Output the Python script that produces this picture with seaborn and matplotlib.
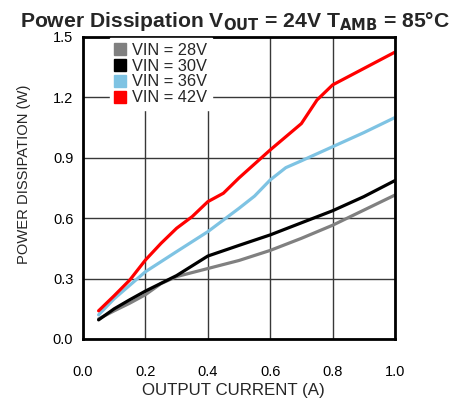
import matplotlib
matplotlib.use("Agg")
import matplotlib.pyplot as plt
import seaborn as sns
import pandas as pd
from matplotlib.lines import Line2D

x28 = [0.05, 0.1, 0.15, 0.2, 0.25, 0.3, 0.4, 0.5, 0.6, 0.7, 0.8, 0.9, 1.0]
y28 = [0.10, 0.14, 0.178, 0.22, 0.275, 0.31, 0.35, 0.39, 0.44, 0.50, 0.565, 0.64, 0.715]
x30 = [0.05, 0.1, 0.15, 0.2, 0.3, 0.4, 0.5, 0.6, 0.7, 0.8, 0.9, 1.0]
y30 = [0.095, 0.15, 0.195, 0.238, 0.315, 0.412, 0.465, 0.517, 0.577, 0.637, 0.707, 0.787]
x36 = [0.05, 0.1, 0.2, 0.3, 0.4, 0.5, 0.55, 0.6, 0.65, 0.7, 0.8, 0.9, 1.0]
y36 = [0.12, 0.20, 0.334, 0.434, 0.533, 0.649, 0.71, 0.79, 0.851, 0.885, 0.955, 1.025, 1.10]
x42 = [0.05, 0.1, 0.15, 0.2, 0.25, 0.3, 0.35, 0.4, 0.45, 0.5, 0.6, 0.7, 0.75, 0.8, 1.0]
y42 = [0.14, 0.215, 0.293, 0.392, 0.475, 0.55, 0.608, 0.682, 0.724, 0.80, 0.939, 1.07, 1.187, 1.262, 1.425]

series = ["VIN = 28V", "VIN = 30V", "VIN = 36V", "VIN = 42V"]
colors = ["#808080", "#000000", "#7EC3E3", "#FF0000"]
xticks = [0.0, 0.2, 0.4, 0.6, 0.8, 1.0]
yticks = [0.0, 0.3, 0.6, 0.9, 1.2, 1.5]
xticklabels = ["0.0", "0.2", "0.4", "0.6", "0.8", "1.0"]
yticklabels = ["0.0", "0.3", "0.6", "0.9", "1.2", "1.5"]

frames = []
for name, xs, ys in zip(series, [x28, x30, x36, x42], [y28, y30, y36, y42]):
    frames.append(pd.DataFrame({"x": xs, "y": ys, "s": name}))
df = pd.concat(frames, ignore_index=True)

sns.set_style("white")
plt.rcParams["font.family"] = ["Liberation Sans", "DejaVu Sans"]

fig = plt.figure(figsize=(4.57, 4.00), dpi=100)
ax = fig.add_axes([0.1816, 0.1525, 0.6827, 0.755])

sns.lineplot(data=df, x="x", y="y", hue="s", hue_order=series,
             palette=colors, linewidth=2.3, ax=ax, legend=False, sort=False,
             estimator=None)

ax.set_xlim(0, 1.0)
ax.set_ylim(0, 1.5)
ax.set_xticks(xticks)
ax.set_yticks(yticks)
ax.set_xticklabels(xticklabels)
ax.set_yticklabels(yticklabels)
ax.tick_params(axis="both", length=0, labelsize=10.5, colors="black")
ax.tick_params(axis="x", pad=19)
ax.tick_params(axis="y", pad=7)
ax.grid(True, color="#383838", linewidth=1.0)
ax.set_axisbelow(True)
for sp in ax.spines.values():
    sp.set_visible(True)
    sp.set_color("black")
    sp.set_linewidth(2.0)

ax.set_xlabel("")
ax.set_ylabel("")
fig.text(233 / 457, 1 - 390 / 400, "OUTPUT CURRENT (A)", ha="center", va="center",
         fontsize=12.2)
fig.text(24 / 457, 1 - 174 / 400, "POWER DISSIPATION (W)", ha="center", va="center",
         rotation=90, fontsize=10.6)

handles = [Line2D([], [], marker="s", linestyle="", color=c, markersize=8.5) for c in colors]
leg = ax.legend(handles, series, loc="upper left", bbox_to_anchor=(0.085, 0.998),
                frameon=True, fontsize=11.8, handlelength=0.7, handletextpad=0.35,
                labelspacing=0.06, borderpad=0.3, borderaxespad=0.0)
leg.get_frame().set_facecolor("white")
leg.get_frame().set_edgecolor("white")
leg.get_frame().set_alpha(1.0)
leg.get_frame().set_boxstyle("square", pad=0.0)
leg.set_zorder(5)

fig.text(0.514, 1 - 27 / 400, r"Power Dissipation V$_{\mathbf{OUT}}$ = 24V T$_{\mathbf{AMB}}$ = 85°C",
         ha="center", va="baseline", fontsize=15.2, fontweight="bold")

fig.savefig("out.png", dpi=100)
